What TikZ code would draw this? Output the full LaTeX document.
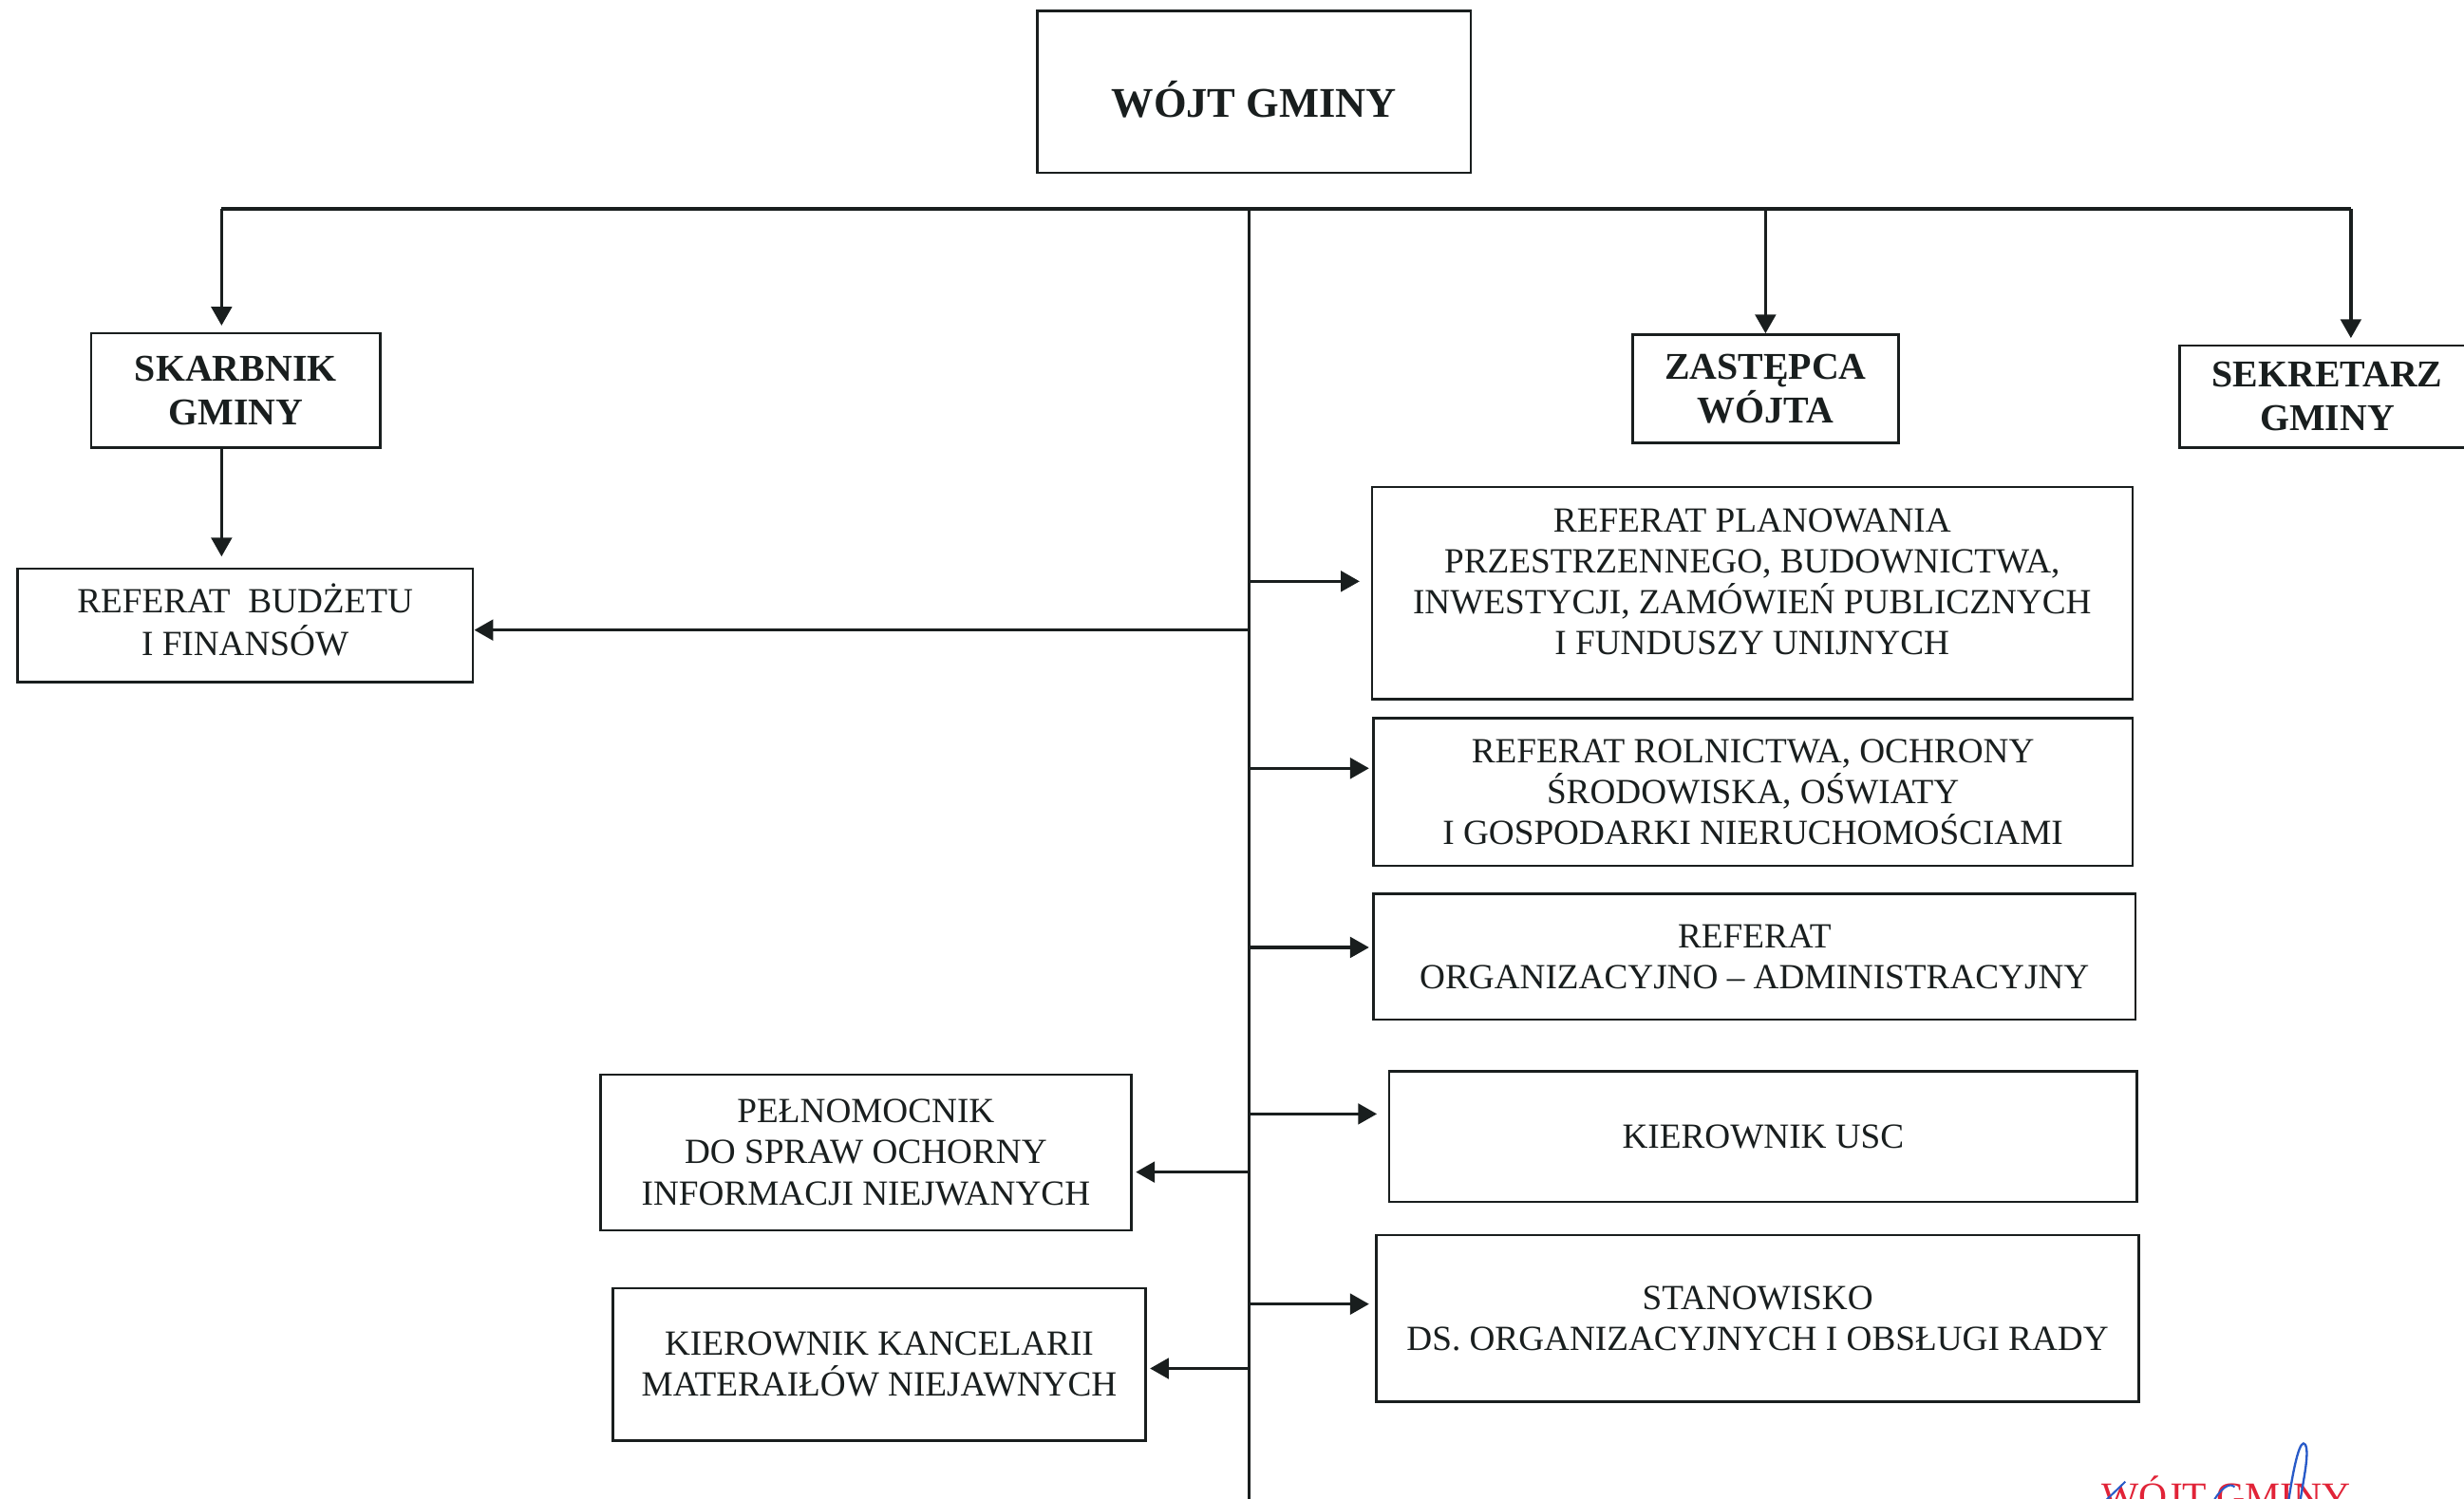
\documentclass[tikz,border=0pt]{standalone}
\usepackage{fontspec}
\setmainfont{Liberation Serif}
\usetikzlibrary{arrows.meta}
\definecolor{ink}{RGB}{25,30,30}
\definecolor{stampred}{RGB}{225,35,55}
\definecolor{signblue}{RGB}{40,90,200}
\tikzset{
  box/.style={draw=ink, line width=0.9pt, inner sep=0pt, align=center, text=ink,
    font=\fontsize{12.8}{14.8}\selectfont},
  headbox/.style={box, font=\bfseries\fontsize{13.7}{15.8}\selectfont},
  boxtext/.style={inner sep=0pt, align=center, text=ink, font=\fontsize{12.8}{14.8}\selectfont},
  conn/.style={draw=ink, line width=1.2pt},
  arr/.style={conn, -{Triangle[length=0.24cm,width=0.26cm]}}
}
\begin{document}
\begin{tikzpicture}
\clip (0,0) rectangle (31.36,-19.08);
\fill[white] (0,0) rectangle (31.36,-19.08);

% top
\node[box, minimum width=5.52cm, minimum height=2.06cm] (wojt) at (15.96,-1.17) {};
\node[boxtext, font=\bfseries\fontsize{15.3}{18}\selectfont] (wojtT) at ([yshift=-0.09cm]wojt.center) {WÓJT GMINY};

% second level
\node[headbox, minimum width=3.68cm, minimum height=1.46cm] (skarb) at (3.0,-4.97) {SKARBNIK\\GMINY};
\node[headbox, minimum width=3.38cm, minimum height=1.38cm] (zast) at (22.47,-4.95) {ZASTĘPCA\\WÓJTA};
\node[headbox, minimum width=3.76cm, minimum height=1.30cm] (sekr) at (29.62,-5.05) {SEKRETARZ\\GMINY};

% left boxes
\node[box, minimum width=5.8cm, minimum height=1.44cm] (budz) at (3.12,-7.96) {\raisebox{0.06cm}{\begin{tabular}{@{}c@{}}REFERAT\ \ BUDŻETU\\I FINANSÓW\end{tabular}}};
\node[box, minimum width=6.76cm, minimum height=1.98cm] (peln) at (11.02,-14.67) {PEŁNOMOCNIK\\DO SPRAW OCHORNY\\INFORMACJI NIEJWANYCH};
\node[box, minimum width=6.78cm, minimum height=1.94cm] (kanc) at (11.19,-17.37) {KIEROWNIK KANCELARII\\MATERAIŁÓW NIEJAWNYCH};

% right boxes
\node[box, minimum width=9.68cm, minimum height=2.7cm] (plan) at (22.3,-7.55) {};
\node[boxtext] (planT) at ([yshift=0.14cm]plan.center) {REFERAT PLANOWANIA\\PRZESTRZENNEGO, BUDOWNICTWA,\\INWESTYCJI, ZAMÓWIEŃ PUBLICZNYCH\\I FUNDUSZY UNIJNYCH};
\node[box, minimum width=9.66cm, minimum height=1.88cm] (rol) at (22.31,-10.08) {REFERAT ROLNICTWA, OCHRONY\\ŚRODOWISKA, OŚWIATY\\I GOSPODARKI NIERUCHOMOŚCIAMI};
\node[box, minimum width=9.7cm, minimum height=1.6cm] (org) at (22.33,-12.18) {REFERAT\\ORGANIZACYJNO – ADMINISTRACYJNY};
\node[box, minimum width=9.52cm, minimum height=1.66cm] (usc) at (22.44,-14.47) {KIEROWNIK USC};
\node[box, minimum width=9.7cm, minimum height=2.12cm] (stan) at (22.37,-16.78) {STANOWISKO\\DS. ORGANIZACYJNYCH I OBSŁUGI RADY};

% bus and trunk
\coordinate (busL) at (2.82,-2.66);
\coordinate (busR) at (29.92,-2.66);
\coordinate (trunkTop) at (15.9,-2.66);
\coordinate (trunkBot) at (15.9,-19.4);
\draw[conn] (busL) -- (busR);
\draw[conn] (trunkTop) -- (trunkBot);

\draw[arr] (busL) -- ([yshift=0.08cm]busL |- skarb.north);
\draw[arr] (zast.north |- busR) -- (zast.north);
\draw[arr] (busR) -- ([yshift=0.08cm]busR |- sekr.north);
\draw[arr] ([xshift=-0.18cm]skarb.south) -- ([xshift=-0.18cm,yshift=0.14cm]skarb.south |- budz.north);

% trunk branches
\coordinate (tb) at (15.9,-8.02);
\coordinate (t1) at (15.9,-7.40);
\coordinate (t2) at (15.9,-9.78);
\coordinate (t3) at (15.9,-12.06);
\coordinate (t4) at (15.9,-14.18);
\coordinate (t5) at (15.9,-16.60);
\coordinate (l1) at (15.9,-14.92);
\coordinate (l2) at (15.9,-17.42);

\draw[arr] (tb) -- (tb -| budz.east);
\draw[arr] (t1) -- ([xshift=-0.14cm]t1 -| plan.west);
\draw[arr] (t2) -- ([xshift=-0.04cm]t2 -| rol.west);
\draw[arr] (t3) -- ([xshift=-0.04cm]t3 -| org.west);
\draw[arr] (t4) -- ([xshift=-0.14cm]t4 -| usc.west);
\draw[arr] (t5) -- ([xshift=-0.08cm]t5 -| stan.west);
\draw[arr] (l1) -- ([xshift=0.04cm]l1 -| peln.east);
\draw[arr] (l2) -- ([xshift=0.04cm]l2 -| kanc.east);

% stamp and signature (cut at the bottom edge, as in the scan)
\node[anchor=base west, inner sep=0pt, text=stampred, font=\fontsize{14.3}{16}\selectfont] (stamp) at (26.74,-19.22) {WÓJT GMINY};
\draw[signblue, line width=0.8pt] (29.12,-19.15) .. controls (29.2,-18.6) and (29.28,-18.3) .. (29.34,-18.39) .. controls (29.4,-18.5) and (29.3,-18.9) .. (29.27,-19.15);
\draw[signblue, line width=0.7pt] (28.15,-19.15) .. controls (28.25,-18.95) and (28.38,-18.86) .. (28.44,-18.93);
\draw[signblue, line width=0.7pt] (26.78,-19.12) -- (27.05,-18.86);
\end{tikzpicture}
\end{document}
